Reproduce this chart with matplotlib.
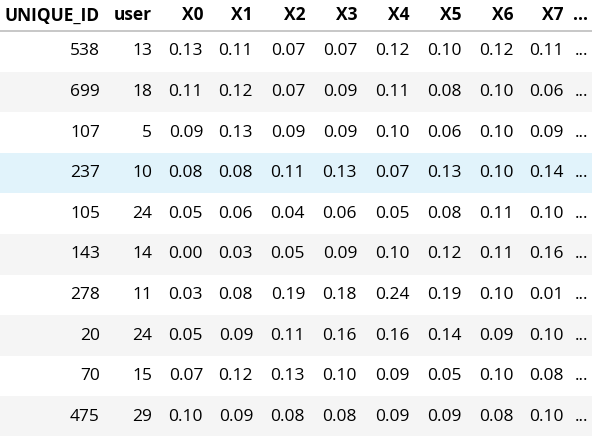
import matplotlib.pyplot as plt
from matplotlib.patches import Rectangle

columns = ['UNIQUE_ID', 'user', 'X0', 'X1', 'X2', 'X3', 'X4', 'X5', 'X6', 'X7', '...']
unique_id = [538, 699, 107, 237, 105, 143, 278, 20, 70, 475]
user = [13, 18, 5, 10, 24, 14, 11, 24, 15, 29]
x_vals = [
    [0.13, 0.11, 0.07, 0.07, 0.12, 0.10, 0.12, 0.11],
    [0.11, 0.12, 0.07, 0.09, 0.11, 0.08, 0.10, 0.06],
    [0.09, 0.13, 0.09, 0.09, 0.10, 0.06, 0.10, 0.09],
    [0.08, 0.08, 0.11, 0.13, 0.07, 0.13, 0.10, 0.14],
    [0.05, 0.06, 0.04, 0.06, 0.05, 0.08, 0.11, 0.10],
    [0.00, 0.03, 0.05, 0.09, 0.10, 0.12, 0.11, 0.16],
    [0.03, 0.08, 0.19, 0.18, 0.24, 0.19, 0.10, 0.01],
    [0.05, 0.09, 0.11, 0.16, 0.16, 0.14, 0.09, 0.10],
    [0.07, 0.12, 0.13, 0.10, 0.09, 0.05, 0.10, 0.08],
    [0.10, 0.09, 0.08, 0.08, 0.09, 0.09, 0.08, 0.10],
]
highlight_row = 3

col_right = [100, 152, 203, 253, 305, 357, 410, 462, 514, 564, 588]
header_h = 31
row_h = 40.6

plt.rcParams['font.family'] = ['Open Sans', 'DejaVu Sans']
fig = plt.figure(figsize=(5.92, 4.36), dpi=100)
ax = fig.add_axes([0, 0, 1, 1])
ax.set_xlim(0, 592)
ax.set_ylim(436, 0)
ax.axis('off')

for j, c in enumerate(columns):
    ax.text(col_right[j], header_h / 2, c, ha='right', va='center',
            fontsize=12.5, fontweight='bold', color='black')
ax.plot([0, 592], [header_h, header_h], color='#bdbdbd', lw=1.2)

for i in range(len(unique_id)):
    top = header_h + i * row_h
    if i == highlight_row:
        ax.add_patch(Rectangle((0, top), 592, row_h, color='#e1f3fb', lw=0))
    elif i % 2 == 1:
        ax.add_patch(Rectangle((0, top), 592, row_h, color='#f5f5f5', lw=0))
    yc = top + row_h / 2
    cells = [str(unique_id[i]), str(user[i])] + [f'{v:.2f}' for v in x_vals[i]] + ['...']
    for j, s in enumerate(cells):
        ax.text(col_right[j], yc, s, ha='right', va='center', fontsize=12.5, color='black')

fig.savefig('out.png', dpi=100)
